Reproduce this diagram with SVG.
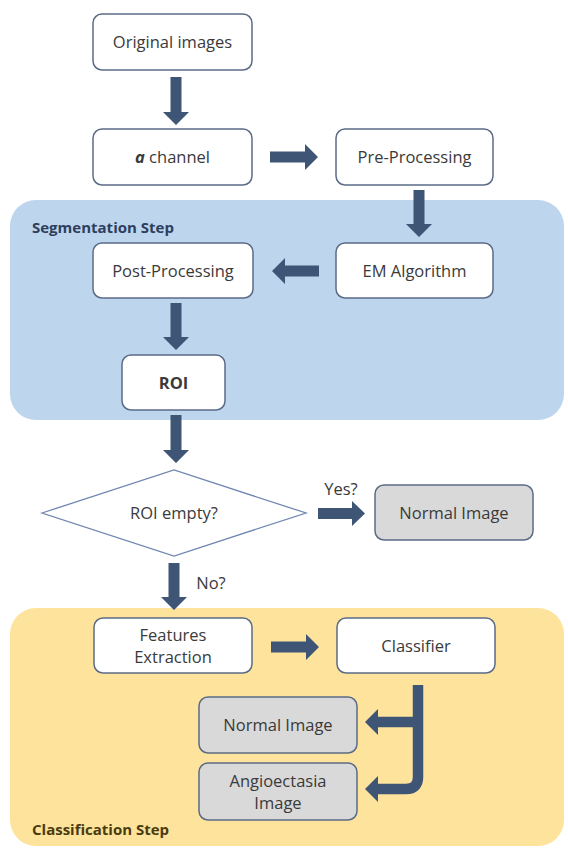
<svg xmlns="http://www.w3.org/2000/svg" width="568" height="850" viewBox="0 0 568 850">
  <style>
    .bg { fill: #ffffff; }
    .region-seg { fill: #bdd5ed; }
    .region-cls { fill: #fde39b; }
    .box { fill: #ffffff; stroke: #5b6b86; stroke-width: 1.5; }
    .box-grey { fill: #d9d9d9; stroke: #5b6b86; stroke-width: 1.5; }
    .decision { fill: #ffffff; stroke: #6f86b0; stroke-width: 1.3; }
    .label { font-family: "Open Sans", "Liberation Sans", sans-serif; font-size: 16.5px; fill: #3a3a3a; text-anchor: middle; }
    .title { font-family: "Open Sans", "Liberation Sans", sans-serif; font-size: 15px; font-weight: bold; fill: #2e3f5e; }
    .title-cls { fill: #4a3b10; }
    .arrow { fill: #3f5576; }
    .arrow-line { fill: none; stroke: #3f5576; stroke-width: 10.5; }
  </style>

  <rect class="bg" x="0" y="0" width="568" height="850"/>

  <!-- stage backgrounds -->
  <g id="segmentation-step">
    <rect class="region-seg" x="10" y="200" width="554" height="220" rx="26"/>
    <text class="title" x="32" y="233">Segmentation Step</text>
  </g>
  <g id="classification-step">
    <rect class="region-cls" x="10" y="608" width="554" height="238" rx="26"/>
    <text class="title title-cls" x="32" y="835">Classification Step</text>
  </g>

  <!-- nodes -->
  <g id="original-images">
    <rect class="box" x="93" y="14" width="159" height="56" rx="9"/>
    <text class="label" x="172.5" y="48">Original images</text>
  </g>
  <g id="a-channel">
    <rect class="box" x="93" y="129" width="159" height="56" rx="9"/>
    <text class="label" x="172.5" y="163"><tspan font-weight="bold" font-style="italic">a</tspan> channel</text>
  </g>
  <g id="pre-processing">
    <rect class="box" x="336" y="129" width="157" height="56" rx="9"/>
    <text class="label" x="414.5" y="163">Pre-Processing</text>
  </g>
  <g id="em-algorithm">
    <rect class="box" x="336" y="243" width="157" height="55" rx="9"/>
    <text class="label" x="414.5" y="277">EM Algorithm</text>
  </g>
  <g id="post-processing">
    <rect class="box" x="93" y="243" width="160" height="55" rx="9"/>
    <text class="label" x="173" y="277">Post-Processing</text>
  </g>
  <g id="roi">
    <rect class="box" x="122" y="355" width="103" height="55" rx="9"/>
    <text class="label" x="173.5" y="389" font-weight="bold">ROI</text>
  </g>
  <g id="roi-empty">
    <polygon class="decision" points="42,513 174,470 306,513 174,556"/>
    <text class="label" x="174" y="519">ROI empty?</text>
  </g>
  <g id="normal-image-1">
    <rect class="box-grey" x="375" y="485" width="158" height="55" rx="9"/>
    <text class="label" x="454" y="519">Normal Image</text>
  </g>
  <g id="features-extraction">
    <rect class="box" x="94" y="618" width="158" height="55" rx="9"/>
    <text class="label" x="173" y="641">Features</text>
    <text class="label" x="173" y="663">Extraction</text>
  </g>
  <g id="classifier">
    <rect class="box" x="337" y="618" width="158" height="55" rx="9"/>
    <text class="label" x="416" y="652">Classifier</text>
  </g>
  <g id="normal-image-2">
    <rect class="box-grey" x="199" y="697" width="158" height="56" rx="9"/>
    <text class="label" x="278" y="731">Normal Image</text>
  </g>
  <g id="angioectasia-image">
    <rect class="box-grey" x="199" y="763" width="158" height="57" rx="9"/>
    <text class="label" x="278" y="787">Angioectasia</text>
    <text class="label" x="278" y="809">Image</text>
  </g>

  <!-- connectors -->
  <g id="connectors">
    <!-- Original images -> a channel -->
    <polygon class="arrow" points="170.5,77 181.5,77 181.5,112 189,112 176,125 163,112 170.5,112"/>
    <!-- a channel -> Pre-Processing -->
    <polygon class="arrow" points="270,151.5 305,151.5 305,144 318,157 305,170 305,162.5 270,162.5"/>
    <!-- Pre-Processing -> EM Algorithm -->
    <polygon class="arrow" points="413.5,190 424.5,190 424.5,224 432,224 419,237 406,224 413.5,224"/>
    <!-- EM Algorithm -> Post-Processing -->
    <polygon class="arrow" points="319,265.5 285,265.5 285,258 272,271 285,284 285,276.5 319,276.5"/>
    <!-- Post-Processing -> ROI -->
    <polygon class="arrow" points="170.5,303 181.5,303 181.5,337 189,337 176,350 163,337 170.5,337"/>
    <!-- ROI -> ROI empty? -->
    <polygon class="arrow" points="170.5,415 181.5,415 181.5,450 189,450 176,463 163,450 170.5,450"/>
    <!-- ROI empty? -> Normal Image (yes) -->
    <polygon class="arrow" points="318,508 352,508 352,501 365,513.5 352,526 352,519 318,519"/>
    <text class="label" x="341" y="495">Yes?</text>
    <!-- ROI empty? -> Features Extraction (no) -->
    <polygon class="arrow" points="168.5,563 179.5,563 179.5,597 187,597 174,610 161,597 168.5,597"/>
    <text class="label" x="211" y="589">No?</text>
    <!-- Features Extraction -> Classifier -->
    <polygon class="arrow" points="271,641.5 306,641.5 306,634 319,647 306,660 306,652.5 271,652.5"/>
    <!-- Classifier -> Normal Image / Angioectasia Image -->
    <path class="arrow-line" d="M418,685 V777 Q418,789 406,789 H376"/>
    <path class="arrow-line" d="M418,722 H376"/>
    <polygon class="arrow" points="378,709 365,722 378,735"/>
    <polygon class="arrow" points="378,776 365,789 378,802"/>
  </g>
</svg>
